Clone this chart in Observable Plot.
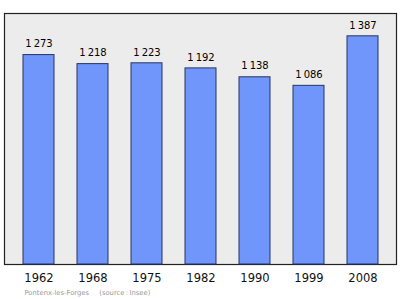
<!DOCTYPE html>
<html>
<head>
<meta charset="utf-8">
<script src="https://cdn.jsdelivr.net/npm/d3@7"></script>
<script src="https://cdn.jsdelivr.net/npm/@observablehq/plot@0.6"></script>
<style>
  html, body { margin: 0; padding: 0; background: #fff; }
  #chart svg { display: block; }
</style>
</head>
<body>
<div id="chart"></div>
<script>
const years = ["1962", "1968", "1975", "1982", "1990", "1999", "2008"];
const population = [1273, 1218, 1223, 1192, 1138, 1086, 1387];
const caption = "Pontenx-les-Forges\u2003\u2002(source\u2009:\u2009Insee)";

const data = years.map((y, i) => ({year: y, value: population[i]}));
const fmt = v => `${Math.floor(v / 1000)}\u2009${String(v % 1000).padStart(3, "0")}`;
const ymax = d3.max(population) * 1.1;

const chart = Plot.plot({
  width: 400,
  height: 299,
  marginTop: 13,
  marginBottom: 35,
  marginLeft: 4,
  marginRight: 4,
  style: {fontFamily: "DejaVu Sans, sans-serif", background: "#fff", overflow: "visible"},
  x: {domain: years, paddingInner: 0.43, paddingOuter: 0.215, insetLeft: 5, insetRight: 4, label: null},
  y: {domain: [0, ymax], axis: null},
  marks: [
    Plot.frame({fill: "#ececec", stroke: "#222", strokeWidth: 1.2}),
    Plot.barY(data, {x: "year", y: "value", fill: "#7095fb", stroke: "#243462", strokeWidth: 1}),
    Plot.text(data, {x: "year", y: "value", text: d => fmt(d.value), dy: -11, fontSize: 10, fill: "#000"}),
    Plot.axisX({tickSize: 0, tickPadding: 9, fontSize: 11.5, fill: "#111"}),
    Plot.text([caption], {frameAnchor: "bottom-left", dx: 20, dy: 30, fontSize: 6.8, fill: "#999", textAnchor: "start"})
  ]
});
document.getElementById("chart").appendChild(chart);
</script>
</body>
</html>
